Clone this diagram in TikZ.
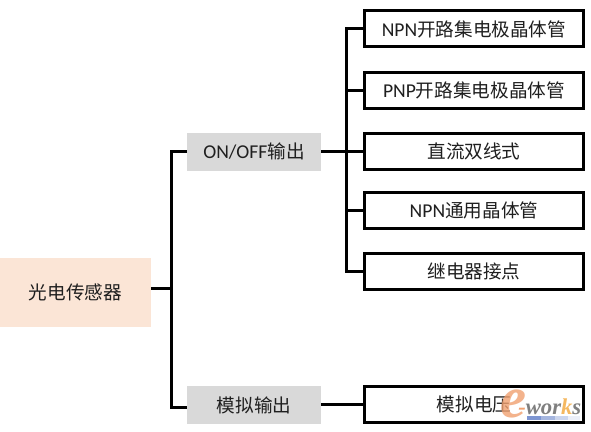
\documentclass[tikz,border=0pt]{standalone}
\usepackage{fontspec}
\setmainfont{Carlito}
\newfontfamily\cjk{Noto Sans CJK SC}[Scale=0.95]
\newfontfamily\wmfont{Liberation Serif}[Scale=1]
\definecolor{rootfill}{HTML}{FBE5D6}
\definecolor{midfill}{HTML}{D9D9D9}
\definecolor{wmorange}{HTML}{F0A070}
\definecolor{wmgray}{HTML}{7F7F7F}
\definecolor{wmgold}{HTML}{F5B860}
\definecolor{wmblue}{HTML}{7E96D2}
\tikzset{
  px/.style={x=0.75pt,y=-0.75pt},
  base/.style={inner sep=0pt,outer sep=0pt,align=center,font=\fontsize{14.7}{17}\selectfont,text=black!88},
  rootbox/.style={base,fill=rootfill,minimum width=113.25pt,minimum height=51.75pt},
  midbox/.style={base,fill=midfill,minimum width=100.5pt,minimum height=28.5pt},
  leafbox/.style={base,draw=black,line width=2.25pt,fill=white,minimum width=164.25pt,minimum height=27pt},
  link/.style={draw=black,line width=2.25pt,line cap=butt,line join=miter}
}
\begin{document}
\begin{tikzpicture}[px]
\useasboundingbox (0,0) rectangle (591,431);
\fill[white] (0,0) rectangle (591,431);
\node[rootbox] (root) at (75.5,292.5) {{\cjk 光电传感器}};
\node[midbox] (onoff) at (254,151.5) {ON/OFF{\cjk 输出}};
\node[midbox] (analog) at (254,405) {{\cjk 模拟输出}};
\node[leafbox] (l1) at (474,29) {NPN{\cjk 开路集电极晶体管}};
\node[leafbox] (l2) at (474,90.5) {PNP{\cjk 开路集电极晶体管}};
\node[leafbox] (l3) at (474,151.5) {{\cjk 直流双线式}};
\node[leafbox] (l4) at (474,210.5) {NPN{\cjk 通用晶体管}};
\node[leafbox] (l5) at (474,271) {{\cjk 继电器接点}};
\node[leafbox] (l6) at (474,404) {{\cjk 模拟电压}};
\coordinate (spineA) at (171,0);
\coordinate (spineB) at (346,0);
% root tree
\draw[link] ([yshift=3pt]root.east) -- ([yshift=3pt]spineA |- root.east);
\draw[link] (onoff.west) -- (spineA |- onoff.west) -- ([yshift=-1.5pt]spineA |- analog.west) -- ([yshift=-1.5pt]analog.west);
% on/off tree
\draw[link] (onoff.east) -- (l3.west);
\draw[link] (l1.west) -- (spineB |- l1.west) -- (spineB |- l5.west) -- (l5.west);
\draw[link] (l2.west) -- (spineB |- l2.west);
\draw[link] (l4.west) -- (spineB |- l4.west);
% analog
\draw[link] ([yshift=0.75pt]analog.east) -- (l6.west);
% watermark
\node[inner sep=0pt,text=wmorange,text opacity=0.8,font=\wmfont\bfseries\itshape\fontsize{44}{44}\selectfont] (wme) at (514,404) {e};
\node[inner sep=0pt,anchor=west,text=wmgray,font=\wmfont\bfseries\itshape\fontsize{17}{17}\selectfont] (wmw) at (518,407) {{\textcolor{wmorange}{-}}wor{\textcolor{wmgold}{k}}s};
\fill[wmblue!100!white] (527,416) rectangle (541,420);
\fill[wmblue!70!white] (541,416) rectangle (555,420);
\fill[wmblue!40!white] (555,416) rectangle (568,420);
\fill[wmblue!15!white] (568,416) rectangle (580,420);
\end{tikzpicture}
\end{document}
